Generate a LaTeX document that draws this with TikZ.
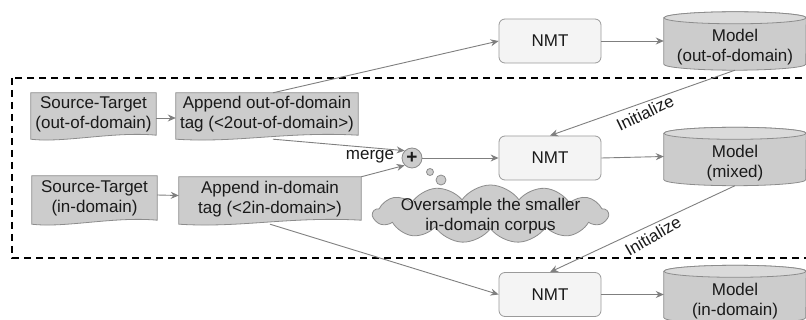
\documentclass[tikz,border=0pt]{standalone}
\usepackage{fontspec}
\setmainfont{Liberation Sans}
\usetikzlibrary{arrows.meta,shapes.symbols,backgrounds,calc}
\definecolor{txt}{HTML}{1A1A1A}
\definecolor{boxfill}{HTML}{CCCCCC}
\definecolor{boxline}{HTML}{8C8C8C}
\definecolor{nmtfill}{HTML}{F4F4F4}
\definecolor{nmtline}{HTML}{9A9A9A}
\definecolor{cyltopc}{HTML}{DADADA}
\definecolor{arr}{HTML}{7F7F7F}
\tikzset{
 every node/.style={font=\fontsize{17}{20}\selectfont, text=txt, inner sep=0pt},
 docbox/.style={align=center},
 docshape/.style={fill=boxfill, draw=boxline, line width=0.8pt},
 nmtbox/.style={draw=nmtline, fill=nmtfill, rounded corners=6pt, minimum width=102pt, minimum height=44pt, line width=0.8pt},
 cylnode/.style={minimum width=142pt, minimum height=58pt},
 cylshape/.style={fill=boxfill, draw=boxline, line width=0.8pt},
 cyltopshape/.style={fill=cyltopc, draw=boxline, line width=0.8pt},
 conn/.style={draw=arr, line width=0.9pt, -{Stealth[length=8pt,width=7pt]}},
 dashbox/.style={draw=black, line width=1.8pt, dash pattern=on 7pt off 5pt},
 bubble/.style={circle, fill=boxfill, draw=boxline, line width=0.8pt},
}
\newcommand\docpath[1]{%
 \path[docshape] (#1.north west) -- (#1.north east) -- ($(#1.south east)+(0,-1)$)
   .. controls ($(#1.south)+(20,-5)$) and ($(#1.south)+(-30,7)$) .. ($(#1.south west)+(0,3)$) -- cycle;}
\newcommand\cylpath[1]{%
 \path[cylshape] ($(#1.north west)+(0,6)$) -- ($(#1.south west)+(0,-6)$)
   arc[start angle=180,end angle=360,x radius=71pt,y radius=6pt]
   -- ($(#1.north east)+(0,6)$)
   arc[start angle=0,end angle=180,x radius=71pt,y radius=6pt] -- cycle;
 \path[cyltopshape] ($(#1.north)+(0,6)$) ellipse[x radius=71pt,y radius=6pt];}
\newcommand\twolines[3]{\makebox[0pt]{\raisebox{#1}[0pt][0pt]{\begin{tabular}{@{}c@{}}#2\\#3\end{tabular}}}}
\begin{document}
\begin{tikzpicture}[x=1pt,y=-1pt]
\useasboundingbox (0,0) rectangle (806,320);
% document-like boxes
\node[docbox, minimum width=125pt, minimum height=43pt] (s1) at (93.5,114.5) {Source-Target\\(out-of-domain)};
\node[docbox, minimum width=182pt, minimum height=43pt] (a1) at (267,114.5) {Append out-of-domain\\tag (<2out-of-domain>)};
\node[docbox, minimum width=125pt, minimum height=45pt] (s2) at (94.5,198.5) {Source-Target\\(in-domain)};
\node[docbox, minimum width=182pt, minimum height=44pt] (a2) at (270,199) {Append in-domain\\tag (<2in-domain>)};
% NMT boxes
\node[nmtbox] (n1) at (550,41) {NMT};
\node[nmtbox] (n2) at (550,158) {NMT};
\node[nmtbox] (n3) at (550,294.5) {NMT};
% models
\node[cylnode] (m1) at (735,41) {\twolines{-11pt}{Model}{(out-of-domain)}};
\node[cylnode] (m2) at (735,156.5) {\twolines{-11pt}{Model}{(mixed)}};
\node[cylnode] (m3) at (735,294.5) {\twolines{-11pt}{Model}{(in-domain)}};
% merge
\node[bubble, minimum size=20pt] (mrg) at (412,158) {\fontsize{19}{19}\selectfont\bfseries +};
\node (mlabel) at (370,157) {merge};
\node[bubble, minimum size=7pt] (b1) at (430,172) {};
\node[bubble, minimum size=10pt] (b2) at (441,180) {};
\node[cloud, cloud puffs=13, cloud puff arc=110, minimum width=235pt, minimum height=58pt,
      fill=boxfill, draw=boxline, line width=0.8pt] (cld) at (490.5,214)
      {\twolines{-7pt}{Oversample the smaller}{in-domain corpus}};
% labels
\node[rotate=26] (l1) at (645,113) {Initialize};
\node[rotate=30] (l2) at (653,236) {Initialize};
% shapes behind
\begin{scope}[on background layer]
 \docpath{s1}\docpath{a1}\docpath{s2}\docpath{a2}
 \cylpath{m1}\cylpath{m2}\cylpath{m3}
\end{scope}
% dashed frame
\draw[dashbox] (12,78) rectangle (815,258);
% connectors
\draw[conn] ([yshift=-3.5pt]s1.east) -- ([yshift=-3.5pt]a1.west);
\draw[conn] ([yshift=3.5pt]s2.east) -- ([yshift=3.5pt]a2.west);
\draw[conn] ([xshift=6pt]a1.north) -- (n1.west);
\draw[conn] ([xshift=6pt,yshift=-3pt]a1.south) -- (mrg.north west);
\draw[conn] (a2.north east) -- (mrg.south west);
\draw[conn] ([yshift=-3pt]a2.south) -- (n3.west);
\draw[conn] (mrg.east) -- (n2.west);
\draw[conn] (n1.east) -- (m1.west);
\draw[conn] (n2.east) -- (m2.west);
\draw[conn] (n3.east) -- (m3.west);
\draw[conn] (m1.south) -- (n2.north);
\draw[conn] (m2.south) -- (n3.north);
\end{tikzpicture}
\end{document}
